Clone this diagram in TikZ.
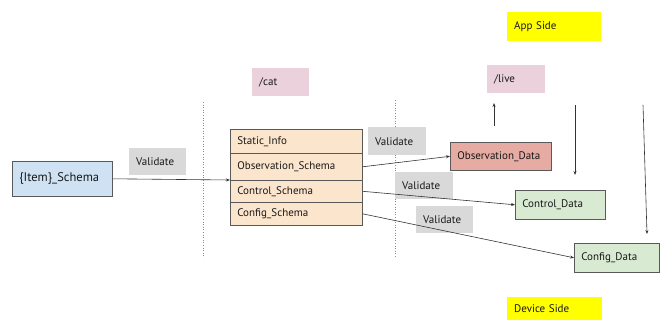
\documentclass[tikz,border=0pt]{standalone}
\usepackage{fontspec}
\setmainfont{PT Sans}
\usetikzlibrary{arrows.meta}
\definecolor{schemablue}{HTML}{CFE2F3}
\definecolor{schemaorange}{HTML}{FCE5CD}
\definecolor{pathpink}{HTML}{EAD1DC}
\definecolor{obsred}{HTML}{E6ABA2}
\definecolor{datagreen}{HTML}{D9EAD3}
\definecolor{validgray}{HTML}{D9D9D9}
\definecolor{sideyellow}{HTML}{FFFF00}
\definecolor{edgegray}{HTML}{595959}
\begin{document}
\begin{tikzpicture}[x=1pt, y=-1pt,
  every node/.style={font=\fontsize{11}{13}\selectfont, text=black!90, anchor=north west,
    inner xsep=7pt, inner ysep=0pt, align=left},
  box/.style={draw=edgegray, line width=0.6pt},
  tag/.style={fill=validgray, minimum height=27pt, text width=43pt},
  conn/.style={draw=black!80, line width=0.6pt, -{Stealth[length=4pt,width=3pt]}},
  divider/.style={draw=black!45, dotted, line width=0.6pt}]

\useasboundingbox (0,0) rectangle (660,320);

% dividers
\draw[divider] (203,102) -- (203,258);
\draw[divider] (395,100) -- (395,258);

% labels on top
\node[fill=sideyellow, text width=80pt, minimum height=29pt] (appside) at (507,12) {App Side};
\node[fill=sideyellow, text width=81pt, minimum height=23pt] (devside) at (507,297) {Device Side};
\node[fill=pathpink, text width=43pt, minimum height=28pt] (cat) at (252,68) {/cat};
\node[fill=pathpink, text width=44pt, minimum height=28pt] (live) at (487,65) {/live};

% schema side
\node[box, fill=schemablue, text width=86pt, minimum height=35pt, font=\fontsize{12.5}{14}\selectfont] (item) at (12,161) {\{Item\}\_Schema};
\node[tag] (valA) at (129,148) {Validate};

\node[box, fill=schemaorange, text width=118pt, minimum height=24pt] (static) at (230,129) {Static\_Info};
\node[box, fill=schemaorange, text width=118pt, minimum height=27pt] (obsschema) at (230,153) {Observation\_Schema};
\node[box, fill=schemaorange, text width=118pt, minimum height=22pt] (ctlschema) at (230,180) {Control\_Schema};
\node[box, fill=schemaorange, text width=118pt, minimum height=23pt] (cfgschema) at (230,202) {Config\_Schema};

% validate tags
\node[tag, minimum height=28pt, text width=44pt] (valB) at (368,127) {Validate};
\node[tag, text width=44pt] (valC) at (395,172) {Validate};
\node[tag] (valD) at (416,206) {Validate};

% data side
\node[box, fill=obsred, text width=87pt, minimum height=28pt] (obsdata) at (450,142) {Observation\_Data};
\node[box, fill=datagreen, text width=76pt, minimum height=29pt] (ctldata) at (515,190) {Control\_Data};
\node[box, fill=datagreen, text width=71pt, minimum height=29pt] (cfgdata) at (574,243) {Config\_Data};

\coordinate (upfrom) at (494,126);
\coordinate (upto) at (494,103);
\coordinate (ctlfrom) at (575,105);
\coordinate (ctlto) at (575,175);
\coordinate (cfgfrom) at (643,105);
\coordinate (cfgto) at (647,234);

% connectors
\draw[conn] (item.east) -- (ctlschema.north west);
\draw[conn] (obsschema.east) -- (obsdata.west);
\draw[conn] (ctlschema.east) -- (ctldata.west);
\draw[conn] (cfgschema.east) -- (cfgdata.west);
\draw[conn] (upfrom) -- (upto);
\draw[conn] (ctlfrom) -- (ctlto);
\draw[conn] (cfgfrom) -- (cfgto);
\end{tikzpicture}
\end{document}
